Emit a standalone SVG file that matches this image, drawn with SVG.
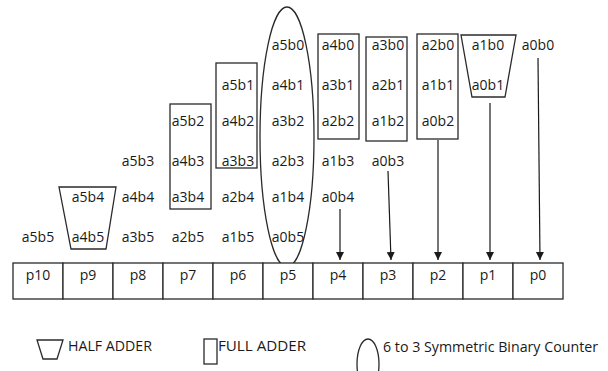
<svg xmlns="http://www.w3.org/2000/svg" width="608" height="371" viewBox="0 0 608 371">
<style>
  text { font-family: "Open Sans", "Noto Sans", "Liberation Sans", sans-serif; font-size: 14px; fill: #1a1a1a; text-anchor: middle; }
  .shape { fill: none; stroke: #2a2a2a; stroke-width: 1.3; }
  .cell { fill: #ffffff; stroke: #2a2a2a; stroke-width: 1.3; }
  .conn { fill: none; stroke: #1a1a1a; stroke-width: 1.2; marker-end: url(#arrow); }
  .leg { font-size: 14px; text-anchor: start; }
</style>
<defs>
  <marker id="arrow" markerUnits="userSpaceOnUse" markerWidth="9" markerHeight="9" refX="8" refY="4" orient="auto">
    <path d="M0,0 L8,4 L0,8 z" fill="#1a1a1a"/>
  </marker>
</defs>

<!-- Adders and counter -->
<g id="fa-p7"><rect class="shape" x="170" y="104" width="41" height="105"/>
  <text x="188" y="126">a5b2</text><text x="188" y="166">a4b3</text><text x="188" y="202">a3b4</text></g>
<g id="fa-p6"><rect class="shape" x="216" y="63" width="41" height="105"/>
  <text x="238" y="90">a5b1</text><text x="238" y="126">a4b2</text><text x="238" y="166">a3b3</text></g>
<g id="sbc-p5"><ellipse class="shape" cx="287" cy="137" rx="27" ry="130"/>
  <text x="288" y="50">a5b0</text><text x="288" y="90">a4b1</text><text x="288" y="126">a3b2</text>
  <text x="288" y="166">a2b3</text><text x="288" y="202">a1b4</text><text x="288" y="242">a0b5</text></g>
<g id="fa-p4"><rect class="shape" x="318" y="34" width="41" height="105"/>
  <text x="338" y="50">a4b0</text><text x="338" y="90">a3b1</text><text x="338" y="126">a2b2</text></g>
<g id="fa-p3"><rect class="shape" x="366" y="37" width="41" height="104"/>
  <text x="388" y="50">a3b0</text><text x="388" y="90">a2b1</text><text x="388" y="126">a1b2</text></g>
<g id="fa-p2"><rect class="shape" x="417" y="34" width="41" height="105"/>
  <text x="438" y="50">a2b0</text><text x="438" y="90">a1b1</text><text x="438" y="126">a0b2</text></g>
<g id="ha-p1"><polygon class="shape" points="461,35 516,35 505,97 472,97"/>
  <text x="488" y="50">a1b0</text><text x="488" y="90">a0b1</text></g>
<g id="ha-p9"><polygon class="shape" points="59,187 116,187 106,249 71,249"/>
  <text x="88" y="202">a5b4</text><text x="88" y="242">a4b5</text></g>

<!-- Loose partial products -->
<g id="pp-a0b0"><text x="538" y="50">a0b0</text></g>
<g id="pp-a5b3"><text x="138" y="166">a5b3</text></g>
<g id="pp-a1b3"><text x="338" y="166">a1b3</text></g>
<g id="pp-a0b3"><text x="388" y="166">a0b3</text></g>
<g id="pp-a4b4"><text x="138" y="202">a4b4</text></g>
<g id="pp-a2b4"><text x="238" y="202">a2b4</text></g>
<g id="pp-a0b4"><text x="338" y="202">a0b4</text></g>
<g id="pp-a5b5"><text x="38" y="242">a5b5</text></g>
<g id="pp-a3b5"><text x="138" y="242">a3b5</text></g>
<g id="pp-a2b5"><text x="188" y="242">a2b5</text></g>
<g id="pp-a1b5"><text x="238" y="242">a1b5</text></g>

<!-- Product row -->
<g id="products">
  <rect class="cell" x="13" y="263" width="50" height="36"/><text x="38" y="280">p10</text>
  <rect class="cell" x="63" y="263" width="50" height="36"/><text x="88" y="280">p9</text>
  <rect class="cell" x="113" y="263" width="50" height="36"/><text x="138" y="280">p8</text>
  <rect class="cell" x="163" y="263" width="50" height="36"/><text x="188" y="280">p7</text>
  <rect class="cell" x="213" y="263" width="50" height="36"/><text x="238" y="280">p6</text>
  <rect class="cell" x="263" y="263" width="50" height="36"/><text x="288" y="280">p5</text>
  <rect class="cell" x="313" y="263" width="50" height="36"/><text x="338" y="280">p4</text>
  <rect class="cell" x="363" y="263" width="50" height="36"/><text x="388" y="280">p3</text>
  <rect class="cell" x="413" y="263" width="50" height="36"/><text x="438" y="280">p2</text>
  <rect class="cell" x="463" y="263" width="50" height="36"/><text x="488" y="280">p1</text>
  <rect class="cell" x="513" y="263" width="50" height="36"/><text x="538" y="280">p0</text>
</g>

<!-- Connectors -->
<g id="connectors">
  <line class="conn" x1="340" y1="209" x2="340" y2="260"/>
  <line class="conn" x1="388" y1="171" x2="391" y2="260"/>
  <line class="conn" x1="438" y1="140" x2="438" y2="260"/>
  <line class="conn" x1="490" y1="103" x2="490" y2="260"/>
  <line class="conn" x1="538" y1="58" x2="540" y2="260"/>
</g>

<!-- Legend -->
<g id="legend-ha"><polygon class="shape" points="37,340 63,340 57,359 43,359"/>
  <text class="leg" x="68" y="351" textLength="84" lengthAdjust="spacingAndGlyphs">HALF ADDER</text></g>
<g id="legend-fa"><rect class="shape" x="204" y="339" width="13" height="25"/>
  <text class="leg" x="218" y="351" textLength="88" lengthAdjust="spacingAndGlyphs">FULL ADDER</text></g>
<g id="legend-sbc"><ellipse class="shape" cx="368" cy="364" rx="11" ry="25"/>
  <text class="leg" x="383" y="352" textLength="215" lengthAdjust="spacingAndGlyphs">6 to 3 Symmetric Binary Counter</text></g>
</svg>
